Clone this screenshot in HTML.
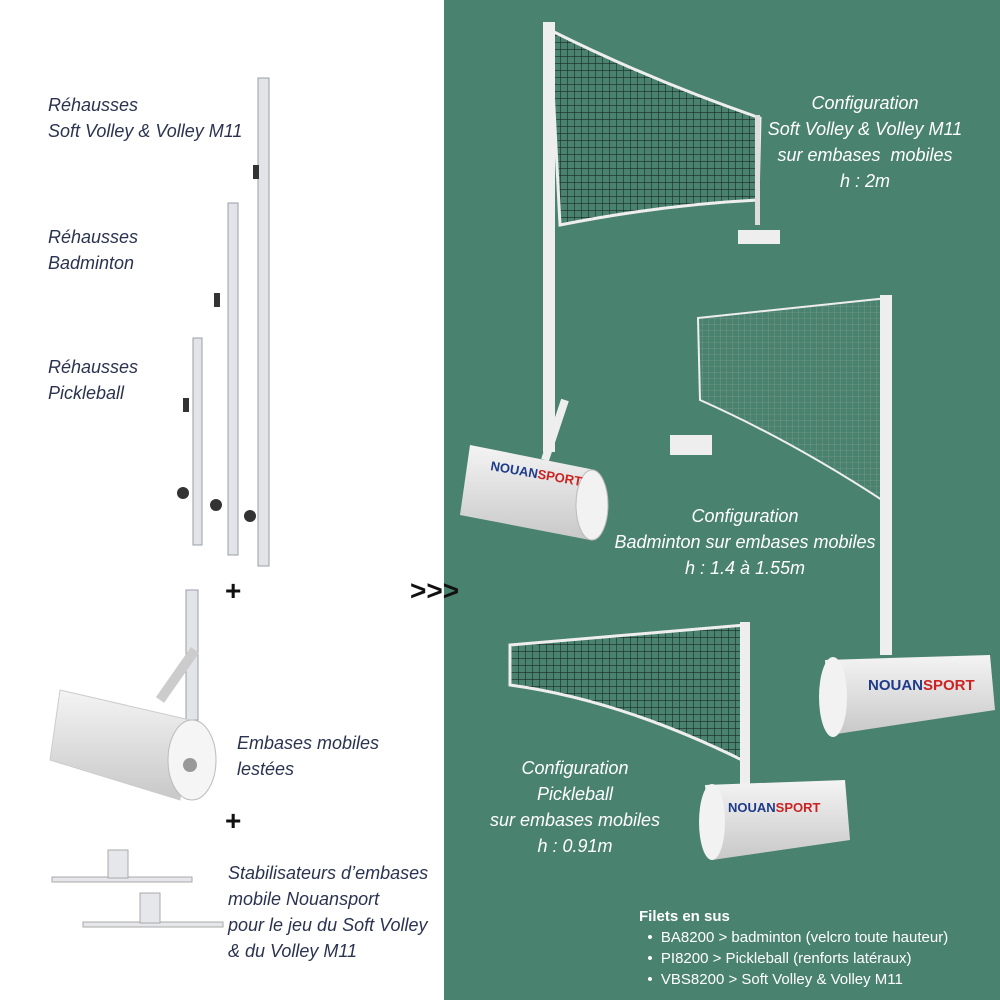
<!DOCTYPE html>
<html><head><meta charset="utf-8"><style>
body{margin:0;width:1000px;height:1000px;position:relative;overflow:hidden;background:#fff;font-family:"Liberation Sans",sans-serif}
.g{position:absolute;left:444px;top:0;width:556px;height:1000px;background:#4a8270}
.t{position:absolute;font-style:italic;font-size:18px;line-height:26px;color:#2a3350}
.w{position:absolute;font-style:italic;font-size:18px;line-height:26px;color:#fff;text-align:center}
svg{position:absolute;left:0;top:0}
</style></head><body>
<div class="g"></div>
<svg width="1000" height="1000">
<defs>
<pattern id="m" width="7" height="7" patternUnits="userSpaceOnUse"><path d="M0 0H7M0 0V7" stroke="#1a2a22" stroke-width="1.2" fill="none"/></pattern>
<pattern id="m2" width="6" height="6" patternUnits="userSpaceOnUse"><path d="M0 0H6M0 0V6" stroke="#7a9a88" stroke-width="0.8" fill="none"/></pattern>
<linearGradient id="cy" x1="0" y1="0" x2="0" y2="1"><stop offset="0" stop-color="#f4f4f4"/><stop offset="1" stop-color="#c8c8c8"/></linearGradient>
</defs>
<g fill="#e2e4e8" stroke="#9aa0a8">
<rect x="258" y="78" width="11" height="488"/><rect x="228" y="203" width="10" height="352"/><rect x="193" y="338" width="9" height="207"/>
<rect x="186" y="590" width="12" height="130"/>
</g>
<g fill="#333"><rect x="253" y="165" width="6" height="14"/><rect x="214" y="293" width="6" height="14"/><rect x="183" y="398" width="6" height="14"/>
<circle cx="250" cy="516" r="6"/><circle cx="216" cy="505" r="6"/><circle cx="183" cy="493" r="6"/></g>
<text x="225" y="600" font-size="28" font-weight="bold" fill="#111">+</text>
<text x="225" y="830" font-size="28" font-weight="bold" fill="#111">+</text>
<text x="410" y="600" font-size="28" font-weight="bold" fill="#111">&gt;&gt;&gt;</text>
<path d="M160 700L195 650" stroke="#ccc" stroke-width="10"/>
<path d="M60 690L190 720L180 800L50 760Z" fill="url(#cy)" stroke="#ccc"/>
<ellipse cx="192" cy="760" rx="24" ry="40" fill="#f5f5f5" stroke="#bbb"/><circle cx="190" cy="765" r="7" fill="#999"/>
<g fill="#e5e7ea" stroke="#aaa"><rect x="52" y="877" width="140" height="5"/><rect x="108" y="850" width="20" height="28"/>
<rect x="83" y="922" width="140" height="5"/><rect x="140" y="893" width="20" height="30"/></g>
<path d="M550 30Q650 80 760 118L758 200Q660 205 560 225Z" fill="url(#m)" stroke="#eee" stroke-width="3"/>
<rect x="543" y="22" width="12" height="430" fill="#eee"/>
<rect x="755" y="115" width="5" height="110" fill="#ddd"/><rect x="738" y="230" width="42" height="14" fill="#eee"/>
<path d="M545 460L565 400" stroke="#eee" stroke-width="8"/>
<path d="M470 445L595 470L590 540L460 515Z" fill="url(#cy)"/>
<ellipse cx="592" cy="505" rx="16" ry="35" fill="#f2f2f2" stroke="#bbb"/>
<text x="490" y="470" font-size="13" font-weight="bold" fill="#1e3a8a" transform="rotate(10 490 470)">NOUAN<tspan fill="#c22">SPORT</tspan></text>
<path d="M698 318L888 298L882 500Q790 440 700 400Z" fill="url(#m2)" stroke="#eee" stroke-width="2"/>
<rect x="880" y="295" width="12" height="360" fill="#eee"/>
<rect x="670" y="435" width="42" height="20" fill="#eee"/>
<path d="M825 660L990 655L995 710L830 735Z" fill="url(#cy)"/>
<ellipse cx="833" cy="697" rx="14" ry="40" fill="#f2f2f2"/>
<text x="868" y="690" font-size="15" font-weight="bold" fill="#1e3a8a">NOUAN<tspan fill="#c22">SPORT</tspan></text>
<path d="M510 645L745 625L742 760Q620 700 510 685Z" fill="url(#m)" stroke="#eee" stroke-width="3"/>
<rect x="740" y="622" width="10" height="170" fill="#eee"/>
<path d="M705 785L845 780L850 840L712 860Z" fill="url(#cy)"/>
<ellipse cx="712" cy="822" rx="13" ry="38" fill="#f2f2f2"/>
<text x="728" y="812" font-size="13" font-weight="bold" fill="#1e3a8a">NOUAN<tspan fill="#c22">SPORT</tspan></text>
</svg>
<div class="t" style="left:48px;top:92px">Réhausses<br>Soft Volley &amp; Volley M11</div>
<div class="t" style="left:48px;top:224px">Réhausses<br>Badminton</div>
<div class="t" style="left:48px;top:354px">Réhausses<br>Pickleball</div>
<div class="t" style="left:237px;top:730px">Embases mobiles<br>lestées</div>
<div class="t" style="left:228px;top:860px">Stabilisateurs d’embases<br>mobile Nouansport<br>pour le jeu du Soft Volley<br>&amp; du Volley M11</div>
<div class="w" style="left:750px;top:90px;width:230px">Configuration<br>Soft Volley &amp; Volley M11<br>sur embases&nbsp; mobiles<br>h : 2m</div>
<div class="w" style="left:595px;top:503px;width:300px">Configuration<br>Badminton sur embases mobiles<br>h : 1.4 à 1.55m</div>
<div class="w" style="left:460px;top:755px;width:230px">Configuration<br>Pickleball<br>sur embases mobiles<br>h : 0.91m</div>
<div style="position:absolute;left:639px;top:906px;color:#fff;font-size:15px;line-height:21px">
<b>Filets en sus</b><br>
&nbsp;&nbsp;•&nbsp; BA8200 &gt; badminton (velcro toute hauteur)<br>
&nbsp;&nbsp;•&nbsp; PI8200 &gt; Pickleball (renforts latéraux)<br>
&nbsp;&nbsp;•&nbsp; VBS8200 &gt; Soft Volley &amp; Volley M11</div>
</body></html>
